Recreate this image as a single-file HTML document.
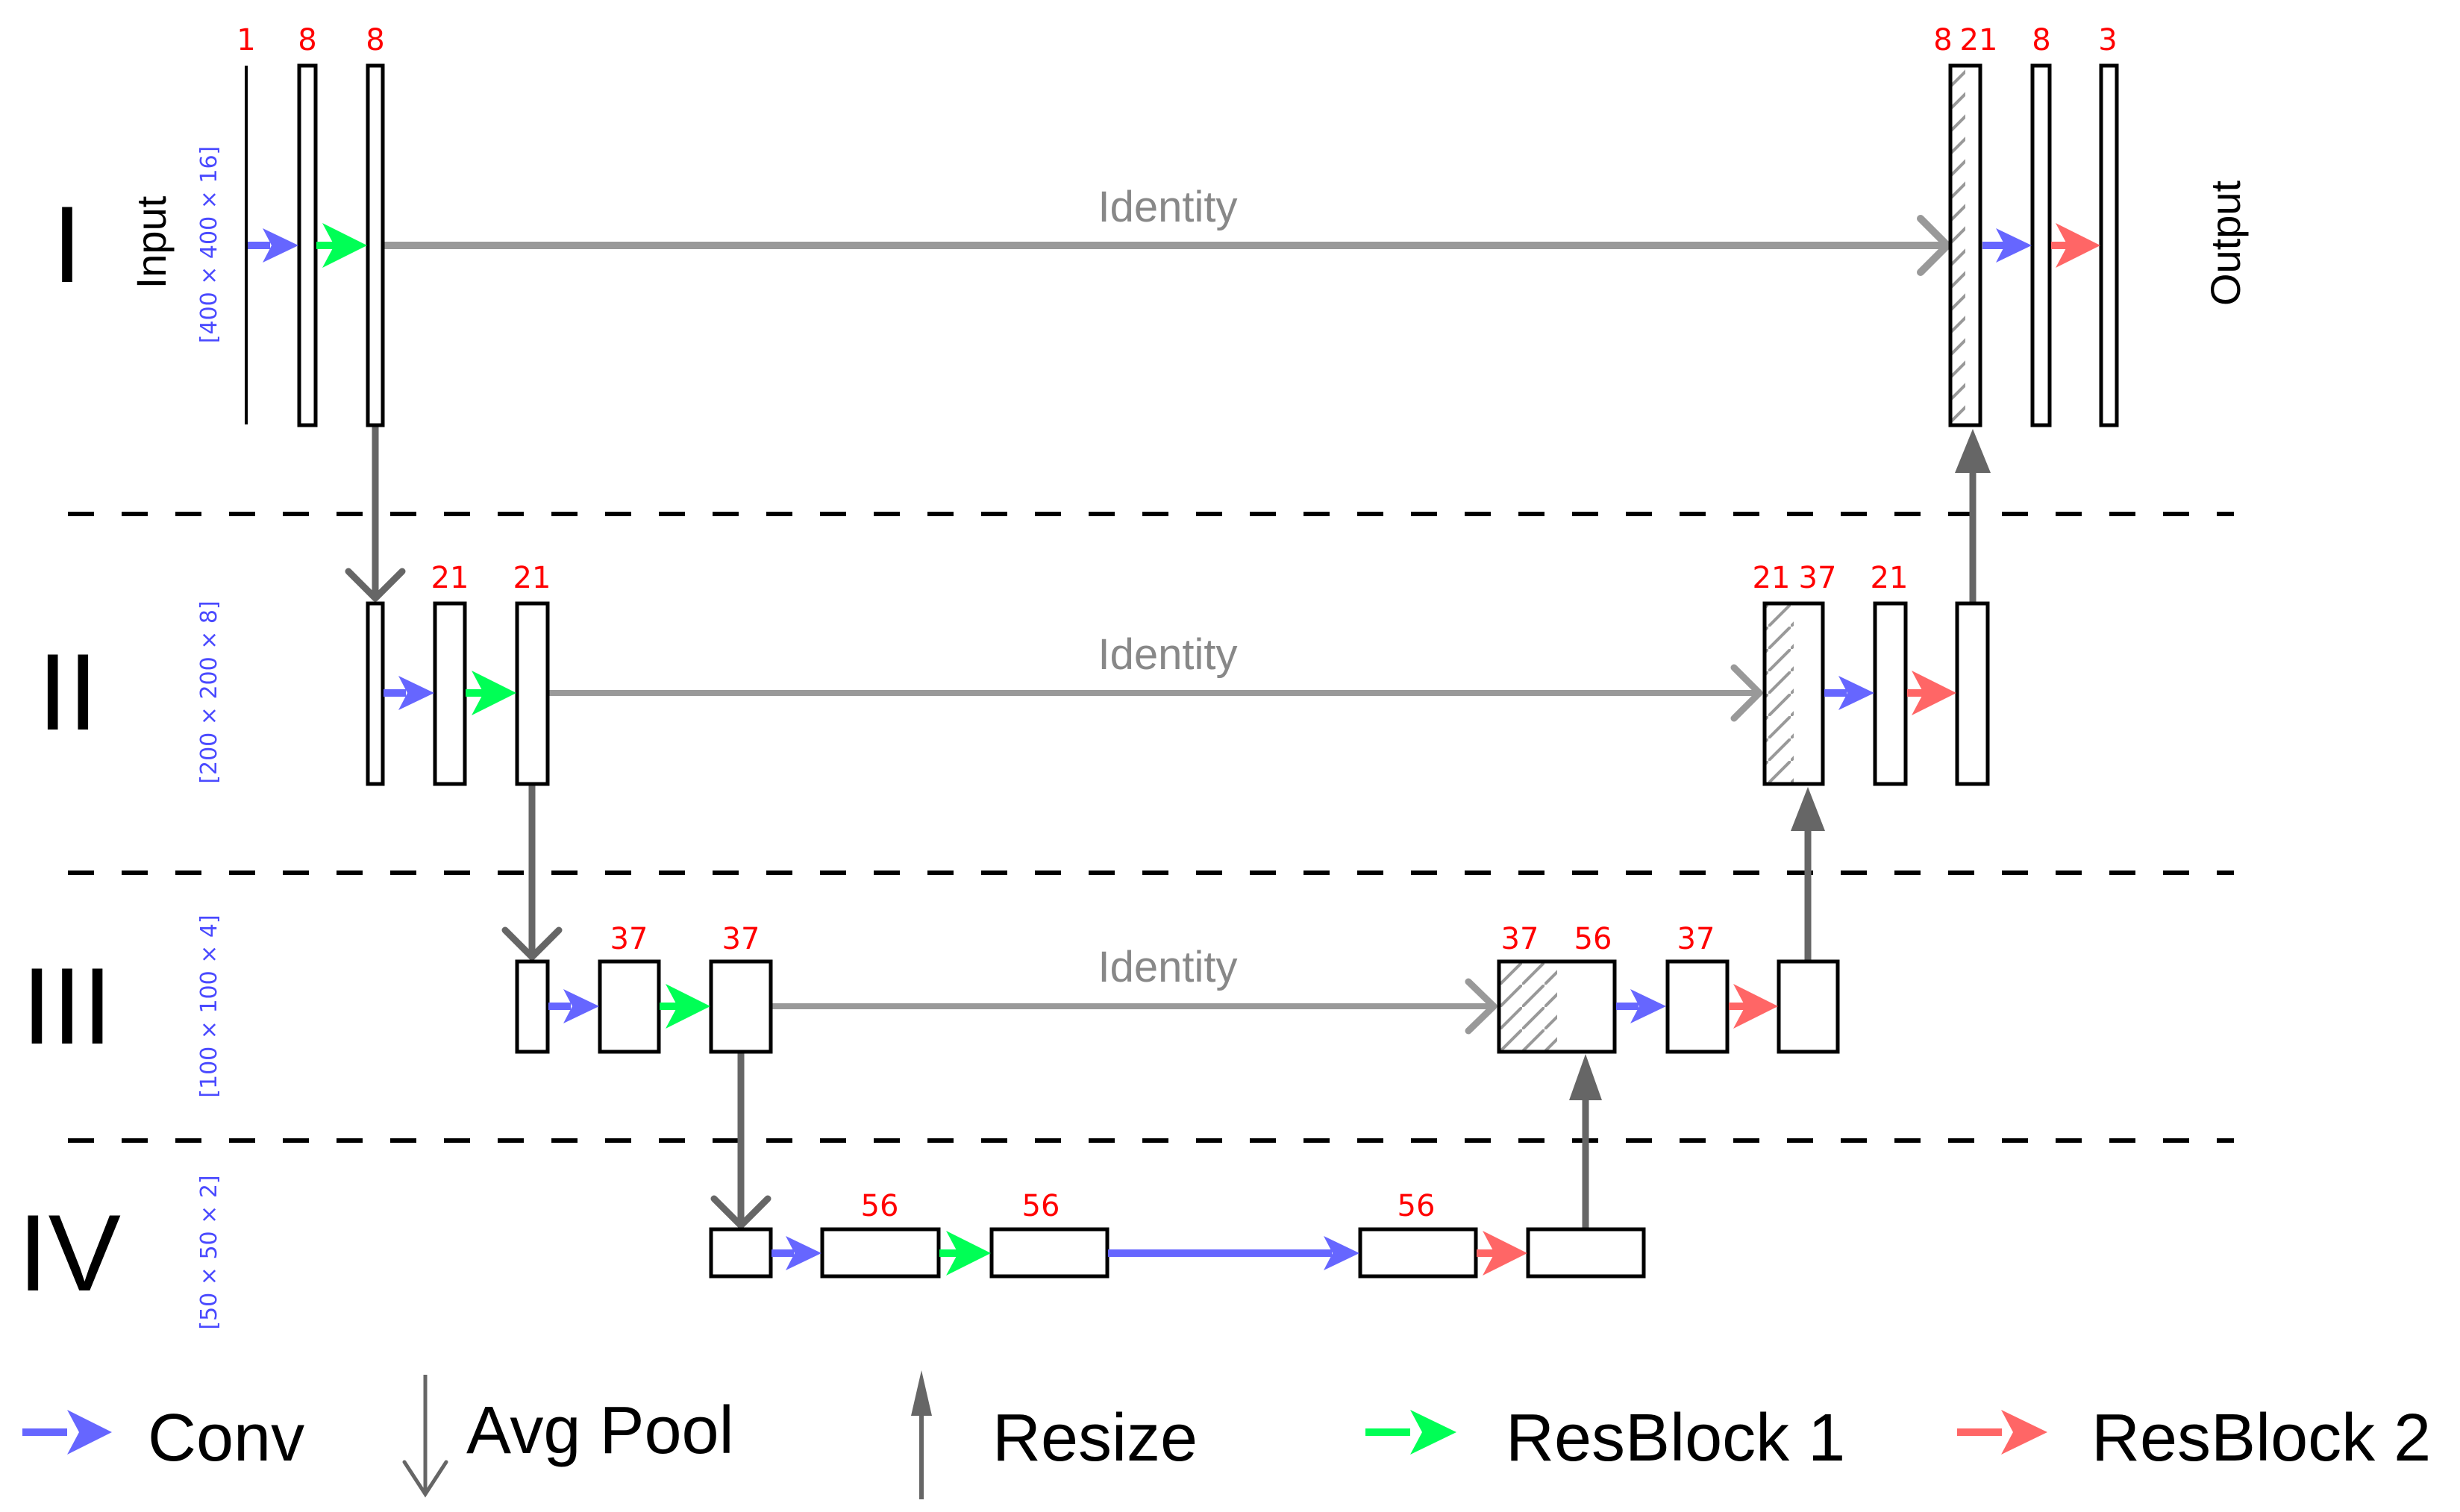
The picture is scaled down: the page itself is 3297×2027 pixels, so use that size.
<!DOCTYPE html>
<html><head><meta charset="utf-8"><style>
html,body{margin:0;padding:0;background:#fff;}
svg{display:block}
.red{fill:#ff0000;font-family:"DejaVu Sans","Liberation Sans",sans-serif;font-size:40px;text-anchor:middle}
.id{fill:#888;font-family:"Liberation Sans",sans-serif;font-size:58px;text-anchor:middle}
.dim{fill:#4a4aff;font-family:"DejaVu Sans","Liberation Sans",sans-serif;font-size:30px;text-anchor:middle}
.rom{fill:#000;font-family:"Liberation Sans",sans-serif;font-size:146px;text-anchor:middle}
.leg{fill:#000;font-family:"Liberation Sans",sans-serif;font-size:90px}
.box{fill:#fff;stroke:#000;stroke-width:5}
.hbox{fill:none;stroke:#000;stroke-width:5}
.dash{stroke:#000;stroke-width:6;stroke-dasharray:35 37}
.idl{stroke:#999;fill:none;stroke-linecap:round;stroke-linejoin:round}
.pool{stroke:#666;fill:none;stroke-width:9;stroke-linecap:round;stroke-linejoin:round}
</style></head><body>
<svg width="3297" height="2027" viewBox="0 0 3297 2027" xmlns="http://www.w3.org/2000/svg">
<defs>
<pattern id="hat" patternUnits="userSpaceOnUse" width="30" height="30">
<line x1="-4" y1="34" x2="34" y2="-4" stroke="#999" stroke-width="4"/>
</pattern>
</defs>

<line class="dash" x1="91" y1="689" x2="2994" y2="689"/>
<line class="dash" x1="91" y1="1170" x2="2994" y2="1170"/>
<line class="dash" x1="91" y1="1529" x2="2994" y2="1529"/>

<text class="rom" x="90" y="378">I</text>
<text class="rom" x="91" y="978">II</text>
<text class="rom" x="90" y="1399">III</text>
<text class="rom" x="93" y="1730">IV</text>

<text transform="translate(222,325) rotate(-90)" font-family="Liberation Sans,sans-serif" font-size="56" text-anchor="middle">Input</text>
<text transform="translate(3002,326) rotate(-90)" font-family="Liberation Sans,sans-serif" font-size="56" text-anchor="middle">Output</text>

<text class="dim" transform="translate(290,328) rotate(-90)">[400 × 400 × 16]</text>
<text class="dim" transform="translate(290,928) rotate(-90)">[200 × 200 × 8]</text>
<text class="dim" transform="translate(290,1349) rotate(-90)">[100 × 100 × 4]</text>
<text class="dim" transform="translate(290,1679) rotate(-90)">[50 × 50 × 2]</text>

<line class="idl" x1="513" y1="329" x2="2608" y2="329" stroke-width="10"/>
<polyline class="idl" points="2574,293 2610,329 2574,365" stroke-width="10"/>
<text class="id" x="1565" y="297">Identity</text>
<line class="idl" x1="734" y1="929" x2="2358" y2="929" stroke-width="8"/>
<polyline class="idl" points="2324,895 2358,929 2324,963" stroke-width="9"/>
<text class="id" x="1565" y="897">Identity</text>
<line class="idl" x1="1033" y1="1349" x2="2002" y2="1349" stroke-width="8"/>
<polyline class="idl" points="1968,1316 2002,1349 1968,1382" stroke-width="9"/>
<text class="id" x="1565" y="1316">Identity</text>

<line class="pool" x1="503" y1="570" x2="503" y2="802"/>
<polyline class="pool" points="467,766 503,802 539,766"/>
<line class="pool" x1="713" y1="1051" x2="713" y2="1283"/>
<polyline class="pool" points="677,1247 713,1283 749,1247"/>
<line class="pool" x1="993" y1="1410" x2="993" y2="1643"/>
<polyline class="pool" points="957,1607 993,1643 1029,1607"/>

<line x1="2644" y1="808" x2="2644" y2="630" stroke="#666" stroke-width="9"/>
<polygon points="2644,575 2620,634 2668,634" fill="#666"/>
<line x1="2423" y1="1289" x2="2423" y2="1110" stroke="#666" stroke-width="9"/>
<polygon points="2423,1055 2400,1114 2446,1114" fill="#666"/>
<line x1="2125" y1="1648" x2="2125" y2="1470" stroke="#666" stroke-width="9"/>
<polygon points="2125,1413 2103,1475 2147,1475" fill="#666"/>

<line x1="330" y1="88" x2="330" y2="569" stroke="#000" stroke-width="4"/>
<rect class="box" x="401" y="88" width="22" height="482"/>
<rect class="box" x="493" y="88" width="20" height="482"/>
<rect x="2614" y="88" width="40" height="482" fill="#fff"/>
<rect x="2616" y="90" width="18" height="478" fill="url(#hat)"/>
<rect class="hbox" x="2614" y="88" width="40" height="482"/>
<rect class="box" x="2724" y="88" width="23" height="482"/>
<rect class="box" x="2816" y="88" width="21" height="482"/>

<rect class="box" x="493" y="809" width="20" height="242"/>
<rect class="box" x="583" y="809" width="40" height="242"/>
<rect class="box" x="693" y="809" width="41" height="242"/>
<rect x="2365" y="809" width="78" height="242" fill="#fff"/>
<rect x="2367" y="811" width="37" height="238" fill="url(#hat)"/>
<rect class="hbox" x="2365" y="809" width="78" height="242"/>
<rect class="box" x="2513" y="809" width="41" height="242"/>
<rect class="box" x="2623" y="809" width="41" height="242"/>

<rect class="box" x="693" y="1289" width="41" height="121"/>
<rect class="box" x="804" y="1289" width="79" height="121"/>
<rect class="box" x="953" y="1289" width="80" height="121"/>
<rect x="2009" y="1289" width="155" height="121" fill="#fff"/>
<rect x="2011" y="1291" width="76" height="117" fill="url(#hat)"/>
<rect class="hbox" x="2009" y="1289" width="155" height="121"/>
<rect class="box" x="2235" y="1289" width="80" height="121"/>
<rect class="box" x="2384" y="1289" width="79" height="121"/>

<rect class="box" x="953" y="1648" width="80" height="63"/>
<rect class="box" x="1102" y="1648" width="156" height="63"/>
<rect class="box" x="1329" y="1648" width="155" height="63"/>
<rect class="box" x="1823" y="1648" width="155" height="63"/>
<rect class="box" x="2048" y="1648" width="155" height="63"/>

<g>
<rect x="332" y="324" width="30" height="10" fill="#6666ff"/><polygon points="400,329 352,306 364,329 352,352" fill="#6666ff"/>
<rect x="424" y="324" width="30" height="10" fill="#00ff55"/><polygon points="492,329 432,299 448,329 432,359" fill="#00ff55"/>
<rect x="2657" y="324" width="30" height="10" fill="#6666ff"/><polygon points="2723,329 2675,306 2687,329 2675,352" fill="#6666ff"/>
<rect x="2749" y="324" width="30" height="10" fill="#ff6666"/><polygon points="2815,329 2755,299 2771,329 2755,359" fill="#ff6666"/>
<rect x="514" y="924" width="30" height="10" fill="#6666ff"/><polygon points="582,929 534,906 546,929 534,952" fill="#6666ff"/>
<rect x="624" y="924" width="30" height="10" fill="#00ff55"/><polygon points="692,929 632,899 648,929 632,959" fill="#00ff55"/>
<rect x="2445" y="924" width="30" height="10" fill="#6666ff"/><polygon points="2512,929 2464,906 2476,929 2464,952" fill="#6666ff"/>
<rect x="2556" y="924" width="30" height="10" fill="#ff6666"/><polygon points="2622,929 2562,899 2578,929 2562,959" fill="#ff6666"/>
<rect x="735" y="1344" width="30" height="10" fill="#6666ff"/><polygon points="803,1349 755,1326 767,1349 755,1372" fill="#6666ff"/>
<rect x="884" y="1344" width="30" height="10" fill="#00ff55"/><polygon points="952,1349 892,1319 908,1349 892,1379" fill="#00ff55"/>
<rect x="2166" y="1344" width="30" height="10" fill="#6666ff"/><polygon points="2233,1349 2185,1326 2197,1349 2185,1372" fill="#6666ff"/>
<rect x="2317" y="1344" width="30" height="10" fill="#ff6666"/><polygon points="2383,1349 2323,1319 2339,1349 2323,1379" fill="#ff6666"/>
<rect x="1034" y="1675" width="30" height="10" fill="#6666ff"/><polygon points="1101,1680 1053,1657 1065,1680 1053,1703" fill="#6666ff"/>
<rect x="1259" y="1675" width="30" height="10" fill="#00ff55"/><polygon points="1328,1680 1268,1650 1284,1680 1268,1710" fill="#00ff55"/>
<rect x="1485" y="1675" width="300" height="10" fill="#6666ff"/><polygon points="1822,1680 1774,1657 1786,1680 1774,1703" fill="#6666ff"/>
<rect x="1979" y="1675" width="30" height="10" fill="#ff6666"/><polygon points="2047,1680 1987,1650 2003,1680 1987,1710" fill="#ff6666"/>
</g>

<text class="red" x="330" y="67">1</text>
<text class="red" x="412" y="67">8</text>
<text class="red" x="503" y="67">8</text>
<text class="red" x="2604" y="67">8</text>
<text class="red" x="2652" y="67">21</text>
<text class="red" x="2736" y="67">8</text>
<text class="red" x="2825" y="67">3</text>

<text class="red" x="603" y="788">21</text>
<text class="red" x="713" y="788">21</text>
<text class="red" x="2374" y="788">21</text>
<text class="red" x="2436" y="788">37</text>
<text class="red" x="2532" y="788">21</text>

<text class="red" x="843" y="1272">37</text>
<text class="red" x="993" y="1272">37</text>
<text class="red" x="2037" y="1272">37</text>
<text class="red" x="2135" y="1272">56</text>
<text class="red" x="2273" y="1272">37</text>

<text class="red" x="1179" y="1630">56</text>
<text class="red" x="1395" y="1630">56</text>
<text class="red" x="1898" y="1630">56</text>

<rect x="30" y="1915" width="60" height="10" fill="#6666ff"/><polygon points="150,1920 90,1890 106,1920 90,1950" fill="#6666ff"/>
<text class="leg" x="198" y="1958">Conv</text>

<line x1="570" y1="1843" x2="570" y2="2003" stroke="#666" stroke-width="5"/>
<polyline points="542,1960 570,2003 598,1960" fill="none" stroke="#666" stroke-width="5" stroke-linecap="round"/>
<text class="leg" x="625" y="1948">Avg Pool</text>

<line x1="1235" y1="2010" x2="1235" y2="1890" stroke="#666" stroke-width="6"/>
<polygon points="1235,1837 1221,1898 1249,1898" fill="#666"/>
<text class="leg" x="1330" y="1958">Resize</text>

<rect x="1830" y="1915" width="60" height="10" fill="#00ff55"/><polygon points="1952,1920 1890,1890 1906,1920 1890,1950" fill="#00ff55"/>
<text class="leg" x="2018" y="1958">ResBlock 1</text>

<rect x="2623" y="1915" width="60" height="10" fill="#ff6666"/><polygon points="2744,1920 2682,1890 2698,1920 2682,1950" fill="#ff6666"/>
<text class="leg" x="2803" y="1958">ResBlock 2</text>
</svg>
</body></html>
